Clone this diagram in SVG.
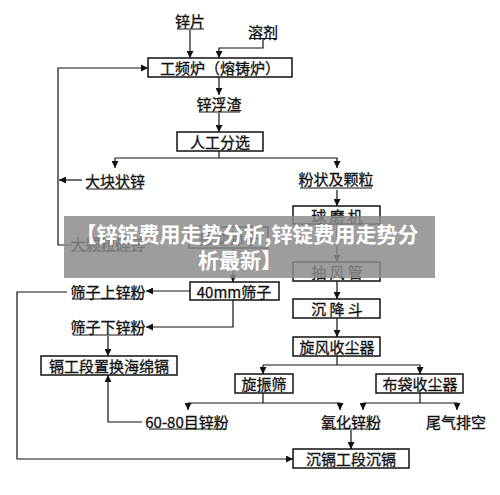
<svg xmlns="http://www.w3.org/2000/svg" width="500" height="495" viewBox="0 0 500 495">
<defs>
<marker id="ah" viewBox="0 0 10 10" refX="10" refY="5" markerWidth="7" markerHeight="7" markerUnits="userSpaceOnUse" orient="auto">
<path d="M0,0 L10,5 L0,10 z" fill="#111"/>
</marker>
<style>
.box{fill:#fff;stroke:#111;stroke-width:1.5}
.t{font-family:"Noto Sans CJK SC","Liberation Serif",serif;font-size:15px;fill:#111;text-anchor:middle;dominant-baseline:central;stroke:#111;stroke-width:0.3}
.ul{stroke:#111;stroke-width:1}
.c{fill:none;stroke:#111;stroke-width:1.2}
.a{fill:none;stroke:#111;stroke-width:1.2;marker-end:url(#ah)}
.bn{font-family:"Noto Sans CJK SC","Liberation Sans",sans-serif;font-size:21px;font-weight:bold;fill:#fff;text-anchor:middle;dominant-baseline:central}
</style>
</defs>
<rect width="500" height="495" fill="#fff"/>
<g id="connectors">
<path class="a" d="M190 30 V58"/>
<path class="a" d="M263 39 V48 H219 V58"/>
<path class="a" d="M219 77 V95"/>
<path class="a" d="M219 113 V132"/>
<path class="c" d="M219 151 V158"/>
<path class="a" d="M115 158 H337 V168"/>
<path class="a" d="M115 158 V168"/>
<path class="a" d="M82 180 H59"/>
<path class="a" d="M72 245 H58 V68 H148"/>
<path class="a" d="M337 190 V206"/>
<path class="a" d="M233 248 V282"/>
<path class="a" d="M337 224 V262"/>
<path class="a" d="M337 281 V299"/>
<path class="a" d="M337 318 V337"/>
<path class="a" d="M190 291 H146"/>
<path class="a" d="M67 292 H17 V459 H293"/>
<path class="a" d="M233 300 V327 H146"/>
<path class="a" d="M108 336 V356"/>
<path class="a" d="M142 422 H108 V375"/>
<path class="c" d="M337 356 V365"/>
<path class="a" d="M263 365 V374"/>
<path class="a" d="M263 365 H420 V374"/>
<path class="c" d="M263 393 V403"/>
<path class="a" d="M188 403 V410"/>
<path class="a" d="M188 403 H340 V410"/>
<path class="c" d="M420 393 V403"/>
<path class="a" d="M363 403 V410"/>
<path class="a" d="M363 403 H457 V410"/>
<path class="a" d="M351 430 V449"/>
</g>
<g id="n-xinpian"><text class="t" x="190" y="20">锌片</text><line class="ul" x1="177" y1="29" x2="204" y2="29"/></g>
<g id="n-rongji"><text class="t" x="263" y="31">溶剂</text><line class="ul" x1="249" y1="38.5" x2="277" y2="38.5"/></g>
<g id="n-furnace"><rect class="box" x="148" y="58" width="144" height="19"/><text class="t" x="220" y="67.5">工频炉（熔铸炉）</text></g>
<g id="n-fuzha"><text class="t" x="219" y="103">锌浮渣</text><line class="ul" x1="199" y1="112" x2="240" y2="112"/></g>
<g id="n-fenxuan"><rect class="box" x="177" y="132" width="86" height="19"/><text class="t" x="220" y="141.5">人工分选</text></g>
<g id="n-dakuai"><text class="t" x="115" y="180">大块状锌</text><line class="ul" x1="87" y1="189" x2="143" y2="189"/></g>
<g id="n-fenzhuang"><text class="t" x="336" y="178">粉状及颗粒</text><line class="ul" x1="300" y1="188" x2="372" y2="188"/></g>
<g id="n-qiumo"><rect class="box" x="293" y="206" width="87" height="18"/><text class="t" x="337" y="215">球 磨 机</text></g>
<g id="n-dakeli"><text class="t" x="108" y="243">大颗粒碎锌</text><line class="ul" x1="73" y1="251" x2="143" y2="251"/></g>
<g id="n-hidden"><rect class="box" x="189" y="227" width="79" height="21"/><text class="t" x="229" y="237.5">振动筛子</text></g>
<g id="n-choufeng"><rect class="box" x="293" y="262" width="87" height="19"/><text class="t" x="337" y="271.5">抽 风 管</text></g>
<g id="n-40mm"><rect class="box" x="190" y="282" width="89" height="18"/><text class="t" x="234" y="291">40mm筛子</text></g>
<g id="n-shaishang"><text class="t" x="108" y="291">筛子上锌粉</text><line class="ul" x1="73" y1="299" x2="143" y2="299"/></g>
<g id="n-chenjiang"><rect class="box" x="293" y="299" width="87" height="19"/><text class="t" x="337" y="308.5">沉 降 斗</text></g>
<g id="n-shaixia"><text class="t" x="108" y="326">筛子下锌粉</text><line class="ul" x1="73" y1="335" x2="143" y2="335"/></g>
<g id="n-xuanfeng"><rect class="box" x="293" y="337" width="87" height="19"/><text class="t" x="337" y="346.5">旋风收尘器</text></g>
<g id="n-ge"><rect class="box" x="41" y="356" width="136" height="19"/><text class="t" x="109" y="365.5">镉工段置换海绵镉</text></g>
<g id="n-xuanzhen"><rect class="box" x="235" y="374" width="58" height="19"/><text class="t" x="264" y="383.5">旋振筛</text></g>
<g id="n-budai"><rect class="box" x="376" y="374" width="87" height="19"/><text class="t" x="420" y="383.5">布袋收尘器</text></g>
<g id="n-6080"><text class="t" x="187" y="421">60-80目锌粉</text><line class="ul" x1="149" y1="429" x2="225" y2="429"/></g>
<g id="n-yanghua"><text class="t" x="351" y="421">氧化锌粉</text><line class="ul" x1="322" y1="429" x2="380" y2="429"/></g>
<g id="n-weiqi"><text class="t" x="456" y="421">尾气排空</text></g>
<g id="n-chenge"><rect class="box" x="293" y="449" width="116" height="19"/><text class="t" x="351" y="458.5">沉镉工段沉镉</text></g>
<g id="banner">
<rect x="64" y="216" width="371" height="62" fill="#8c8c8c" fill-opacity="0.85"/>
<text class="bn" x="247" y="233">【锌锭费用走势分析,锌锭费用走势分</text>
<text class="bn" x="240" y="259">析最新】</text>
</g>
</svg>
